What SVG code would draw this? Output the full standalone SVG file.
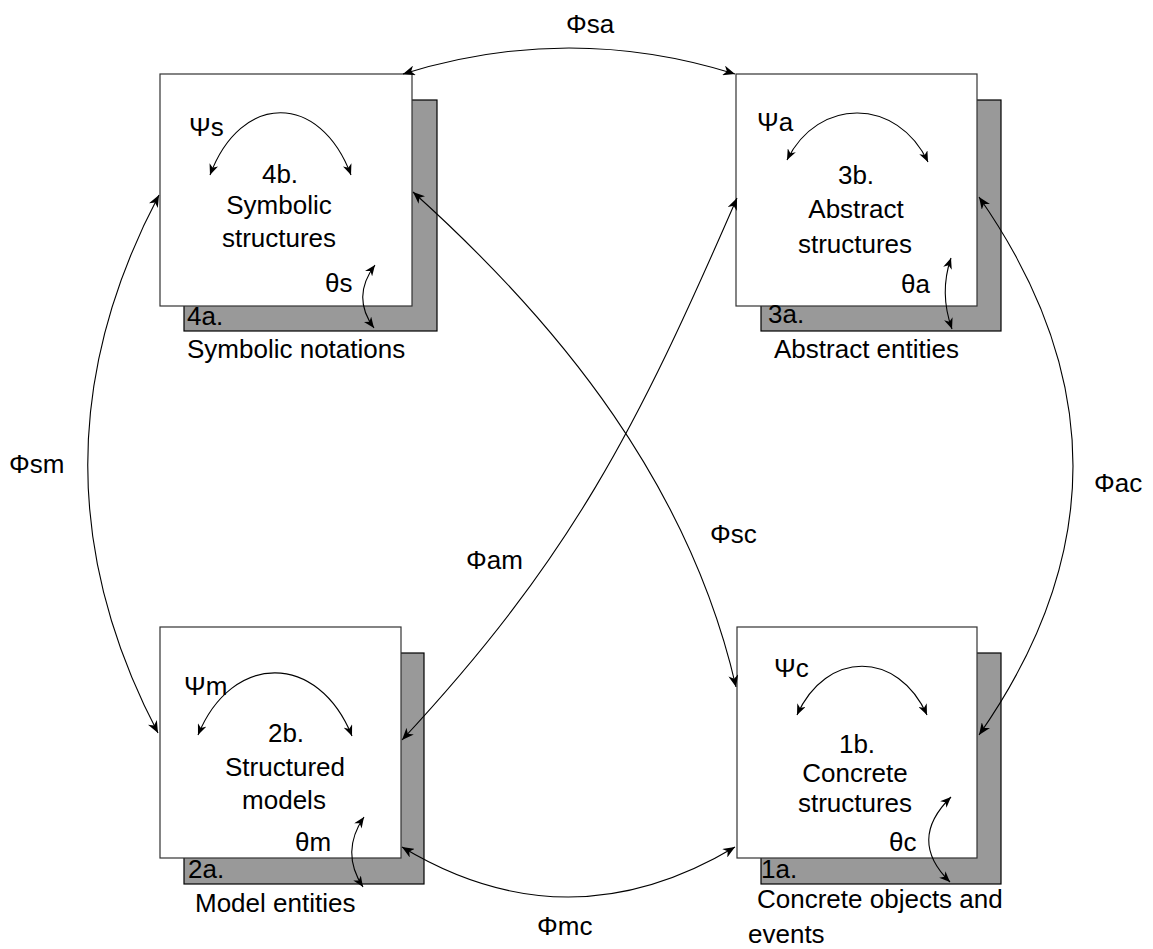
<svg xmlns="http://www.w3.org/2000/svg" width="1153" height="949" viewBox="0 0 1153 949">
<style>
.bg{fill:#ffffff}
.shadow{fill:#999999;stroke:#000;stroke-width:1.2}
.box{fill:#ffffff;stroke:#333;stroke-width:1.2}
.t{font-family:"Liberation Sans",Arial,sans-serif;font-size:26px;fill:#000}
.c{text-anchor:middle}
.ln{fill:none;stroke:#000;stroke-width:1.1;marker-start:url(#ah);marker-end:url(#ah)}
.sm{fill:none;stroke:#000;stroke-width:1.1;marker-start:url(#ahs);marker-end:url(#ahs)}
</style>
<defs>
<marker id="ah" viewBox="0 0 12 10" refX="12" refY="5" markerWidth="12" markerHeight="10" markerUnits="userSpaceOnUse" orient="auto-start-reverse"><path d="M0,0 L12,5 L0,10 L3.5,5 z" fill="#000"/></marker>
<marker id="ahs" viewBox="0 0 12 10" refX="12" refY="5" markerWidth="11" markerHeight="9" markerUnits="userSpaceOnUse" orient="auto-start-reverse"><path d="M0,0 L12,5 L0,10 L3.5,5 z" fill="#000"/></marker>
</defs>
<rect class="bg" x="0" y="0" width="1153" height="949"/>

<g id="node4">
<rect class="shadow" x="184" y="100" width="253" height="231"/>
<rect class="box" x="160" y="74" width="252" height="232"/>
<text class="t" x="189" y="136">Ψs</text>
<text class="t c" x="280" y="183">4b.</text>
<text class="t c" x="279" y="214">Symbolic</text>
<text class="t c" x="279" y="247">structures</text>
<text class="t" x="325" y="292">θs</text>
<text class="t" x="187" y="325">4a.</text>
<text class="t" x="187" y="358">Symbolic notations</text>
<path class="sm" d="M210,175 C241,92 320,92 351,175"/>
<path class="sm" d="M375,265 Q351,297 374,328"/>
</g>

<g id="node3">
<rect class="shadow" x="761" y="100" width="240" height="231"/>
<rect class="box" x="736" y="74" width="241" height="232"/>
<text class="t" x="757" y="131">Ψa</text>
<text class="t c" x="856" y="184">3b.</text>
<text class="t c" x="856" y="218">Abstract</text>
<text class="t c" x="855" y="253">structures</text>
<text class="t" x="901" y="293">θa</text>
<text class="t" x="768" y="323">3a.</text>
<text class="t" x="774" y="358">Abstract entities</text>
<path class="sm" d="M787,160 C818,97 897,97 928,162"/>
<path class="sm" d="M951,258 Q939,293 952,329"/>
</g>

<g id="node2">
<rect class="shadow" x="184" y="653" width="240" height="231"/>
<rect class="box" x="160" y="627" width="241" height="231"/>
<text class="t" x="184" y="695">Ψm</text>
<text class="t c" x="286" y="742">2b.</text>
<text class="t c" x="285" y="776">Structured</text>
<text class="t c" x="284" y="809">models</text>
<text class="t" x="295" y="851">θm</text>
<text class="t" x="188" y="878">2a.</text>
<text class="t" x="195" y="912">Model entities</text>
<path class="sm" d="M198,735 C232,652 318,652 352,736"/>
<path class="sm" d="M364,817 Q340,852 363,887"/>
</g>

<g id="node1">
<rect class="shadow" x="761" y="653" width="240" height="231"/>
<rect class="box" x="737" y="627" width="240" height="231"/>
<text class="t" x="774" y="677">Ψc</text>
<text class="t c" x="857" y="753">1b.</text>
<text class="t c" x="855" y="782">Concrete</text>
<text class="t c" x="855" y="812">structures</text>
<text class="t" x="889" y="851">θc</text>
<text class="t" x="761" y="878">1a.</text>
<text class="t" x="757" y="908">Concrete objects and</text>
<text class="t" x="748" y="943">events</text>
<path class="sm" d="M797,715 C826,650 898,650 927,715"/>
<path class="sm" d="M951,797 Q907,840 950,882"/>
</g>

<g id="connectors">
<path class="ln" d="M403,74 Q569,22 735,74"/>
<path class="ln" d="M159,195 Q17,464 158,733"/>
<path class="ln" d="M979,197 Q1167,466 979,735"/>
<path class="ln" d="M402,847 Q568,947 735,847"/>
<path class="ln" d="M413,192 C563,327 690,487 736,687"/>
<path class="ln" d="M737,198 C637,428 572,557 402,740"/>
<text class="t" x="566" y="33">Φsa</text>
<text class="t" x="9" y="473">Φsm</text>
<text class="t" x="710" y="543">Φsc</text>
<text class="t" x="466" y="569">Φam</text>
<text class="t" x="1094" y="492">Φac</text>
<text class="t" x="537" y="935">Φmc</text>
</g>
</svg>
